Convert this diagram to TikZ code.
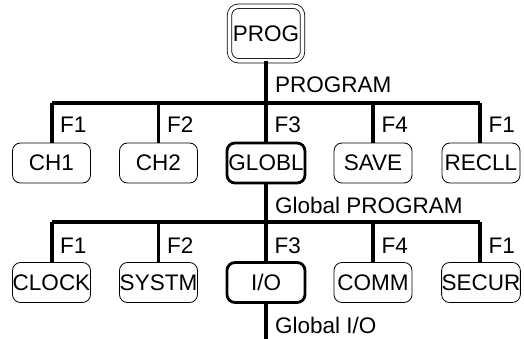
\documentclass[tikz,border=0pt]{standalone}
\usepackage{fontspec}
\setmainfont{Liberation Sans}
\begin{document}
\begin{tikzpicture}[x=1pt,y=-1pt,
  box/.style={draw, line width=0.8pt, rounded corners=8pt, minimum width=78pt, minimum height=40pt, inner sep=0pt, font=\fontsize{22.5}{26}\selectfont},
  selbox/.style={box, line width=2.8pt},
  topbox/.style={draw, line width=0.8pt, double, double distance=3.6pt, rounded corners=9pt, minimum width=73pt, minimum height=54.5pt, inner sep=0pt, font=\fontsize{22.5}{26}\selectfont},
  bar/.style={line width=3.6pt},
  lbl/.style={anchor=base west, inner sep=0pt, font=\fontsize{22.5}{26}\selectfont}]
\useasboundingbox (0,0) rectangle (524,339);
% top
\node[topbox] (prog) at (266,33.5) {PROG};
\coordinate (j1) at (266,103);
\coordinate (a1) at (52,103);
\coordinate (a2) at (158.5,103);
\coordinate (a4) at (373,103);
\coordinate (a5) at (480,103);
% row 1
\node[box] (ch1) at (51.5,163) {CH1};
\node[box] (ch2) at (158.5,163) {CH2};
\node[selbox] (globl) at (266,163) {GLOBL};
\node[box] (save) at (373,163) {SAVE};
\node[box] (recll) at (481,163) {RECLL};
% row 2 junctions
\coordinate (j2) at (266,222);
\coordinate (b1) at (52,222);
\coordinate (b2) at (158.5,222);
\coordinate (b4) at (373,222);
\coordinate (b5) at (480,222);
% row 2
\node[box] (clock) at (51.5,282.5) {CLOCK};
\node[box] (systm) at (158.5,282.5) {SYSTM};
\node[selbox] (io) at (266,282.5) {I/O};
\node[box] (comm) at (373,282.5) {COMM};
\node[box] (secur) at (481,282.5) {SECUR};
\coordinate (end) at (266,339);
% connectors
\draw[bar] (prog.south) -- (j1);
\draw[bar] (a1) -- (a5);
\draw[bar] (a1) -- (a1 |- ch1.north);
\draw[bar] (a2) -- (a2 |- ch2.north);
\draw[bar] (j1) -- (globl.north);
\draw[bar] (a4) -- (a4 |- save.north);
\draw[bar] (a5) -- (a5 |- recll.north);
\draw[bar] (globl.south) -- (j2);
\draw[bar] (b1) -- (b5);
\draw[bar] (b1) -- (b1 |- clock.north);
\draw[bar] (b2) -- (b2 |- systm.north);
\draw[bar] (j2) -- (io.north);
\draw[bar] (b4) -- (b4 |- comm.north);
\draw[bar] (b5) -- (b5 |- secur.north);
\draw[bar] (io.south) -- (end);
% labels
\node[lbl] (lp) at (275,93) {PROGRAM};
\node[lbl] (f11) at (60,133) {F1};
\node[lbl] (f12) at (167,133) {F2};
\node[lbl] (f13) at (274.5,133) {F3};
\node[lbl] (f14) at (381.5,133) {F4};
\node[lbl] (f15) at (488.5,133) {F1};
\node[lbl] (lg) at (275,213) {Global PROGRAM};
\node[lbl] (f21) at (60,253) {F1};
\node[lbl] (f22) at (167,253) {F2};
\node[lbl] (f23) at (274.5,253) {F3};
\node[lbl] (f24) at (381.5,253) {F4};
\node[lbl] (f25) at (488.5,253) {F1};
\node[lbl] (lio) at (275,333) {Global I/O};
\end{tikzpicture}
\end{document}
